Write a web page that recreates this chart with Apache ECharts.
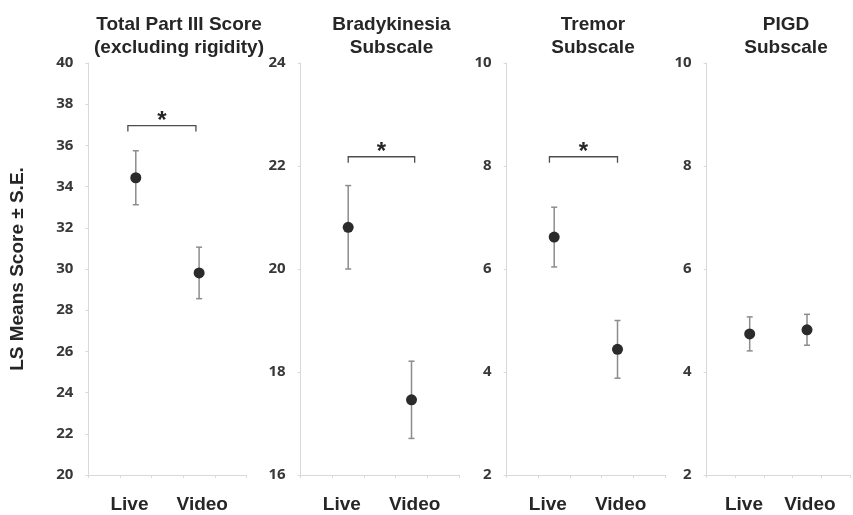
<!DOCTYPE html>
<html>
<head>
<meta charset="utf-8">
<script src="https://cdn.jsdelivr.net/npm/echarts@6/dist/echarts.min.js"></script>
<style>html,body{margin:0;padding:0;background:#fff}#c{width:853px;height:515px}</style>
</head>
<body>
<div id="c"></div>
<script>
// ---- data ----
const categories = ['Live', 'Video'];
const panelTitles = ['Total Part III Score\n(excluding rigidity)', 'Bradykinesia\nSubscale', 'Tremor\nSubscale', 'PIGD\nSubscale'];
const yAxisTitle = 'LS Means Score \u00b1 S.E.';
const totalMeans = [34.43, 29.81];
const totalSE = [1.31, 1.25];
const bradyMeans = [20.81, 17.46];
const bradySE = [0.81, 0.75];
const tremorMeans = [6.62, 4.44];
const tremorSE = [0.58, 0.56];
const pigdMeans = [4.74, 4.82];
const pigdSE = [0.33, 0.30];
const totalTicks = [20, 22, 24, 26, 28, 30, 32, 34, 36, 38, 40];
const bradyTicks = [16, 18, 20, 22, 24];
const tremorTicks = [2, 4, 6, 8, 10];
const pigdTicks = [2, 4, 6, 8, 10];
const sigLevels = [36.96, 22.18, 8.18, null];
const sigMark = '*';

// ---- layout ----
const panels = [
  {means: totalMeans, se: totalSE, ticks: totalTicks},
  {means: bradyMeans, se: bradySE, ticks: bradyTicks},
  {means: tremorMeans, se: tremorSE, ticks: tremorTicks},
  {means: pigdMeans, se: pigdSE, ticks: pigdTicks}
];
const gridLefts = [88.3, 300.7, 506.7, 706.7];
const gridWidth = 158.3;
const titleCenters = [174, 386.5, 588, 781];
const catX = [1.5, 3.5];
const labelX = [1.3, 3.6];
const bracketSpans = [[1.25, 3.4], [1.5, 3.6], [1.35, 3.5], null];
const axisColor = '#d9d9d9';

const grid = [], xAxis = [], yAxis = [], series = [], title = [];
panels.forEach((p, i) => {
  grid.push({left: gridLefts[i], top: 63, width: gridWidth, height: 412});
  title.push({
    text: panelTitles[i], left: titleCenters[i], top: 8, textAlign: 'center',
    textStyle: {fontFamily: 'Liberation Sans', fontWeight: 'bold', fontSize: 19, lineHeight: 23, color: '#262626'}
  });
  xAxis.push({
    type: 'value', gridIndex: i, min: 0, max: 5, interval: 1, position: 'bottom',
    axisLine: {show: true, onZero: false, lineStyle: {color: axisColor, width: 1}},
    axisTick: {show: true, length: 3, lineStyle: {color: axisColor}},
    axisLabel: {show: false}, splitLine: {show: false}
  });
  xAxis.push({
    type: 'value', gridIndex: i, min: 0, max: 5, interval: 0.1, position: 'bottom',
    axisLine: {show: false}, axisTick: {show: false}, splitLine: {show: false},
    axisLabel: {
      show: true, margin: 20, fontFamily: 'Liberation Sans', fontWeight: 'bold', fontSize: 19, color: '#262626',
      formatter: v => {
        for (let k = 0; k < categories.length; k++) if (Math.abs(v - labelX[k]) < 0.01) return categories[k];
        return '';
      }
    }
  });
  const t = p.ticks;
  const ya = {
    type: 'value', gridIndex: i, min: t[0], max: t[t.length - 1], interval: t[1] - t[0],
    axisLine: {show: true, onZero: false, lineStyle: {color: axisColor, width: 1}},
    axisTick: {show: true, length: 3, lineStyle: {color: axisColor}},
    splitLine: {show: false},
    axisLabel: {margin: 15, fontFamily: 'Open Sans', fontWeight: 'bold', fontSize: 15, color: '#383838'}
  };
  if (i === 0) {
    Object.assign(ya, {
      name: yAxisTitle, nameLocation: 'middle', nameRotate: 90, nameGap: 61,
      nameTextStyle: {fontFamily: 'Liberation Sans', fontWeight: 'bold', fontSize: 19, color: '#262626'}
    });
  }
  yAxis.push(ya);

  const xi = 2 * i;
  // error bars
  series.push({
    type: 'custom', xAxisIndex: xi, yAxisIndex: i, z: 2, silent: true,
    data: p.means.map((m, k) => [catX[k], m - p.se[k], m + p.se[k]]),
    renderItem: (params, api) => {
      const lo = api.coord([api.value(0), api.value(1)]);
      const hi = api.coord([api.value(0), api.value(2)]);
      const st = {stroke: '#8c8c8c', lineWidth: 1.5};
      return {type: 'group', children: [
        {type: 'line', shape: {x1: lo[0], y1: lo[1], x2: hi[0], y2: hi[1]}, style: st},
        {type: 'line', shape: {x1: lo[0] - 3, y1: lo[1], x2: lo[0] + 3, y2: lo[1]}, style: st},
        {type: 'line', shape: {x1: hi[0] - 3, y1: hi[1], x2: hi[0] + 3, y2: hi[1]}, style: st}
      ]};
    }
  });
  // means
  series.push({
    type: 'scatter', xAxisIndex: xi, yAxisIndex: i, z: 3, silent: true,
    symbol: 'circle', symbolSize: 11, itemStyle: {color: '#2b2b2b', opacity: 1},
    data: p.means.map((m, k) => [catX[k], m])
  });
  // significance bracket
  if (sigLevels[i] != null) {
    const sp = bracketSpans[i];
    series.push({
      type: 'custom', xAxisIndex: xi, yAxisIndex: i, z: 2, silent: true,
      data: [[sp[0], sp[1], sigLevels[i]]],
      renderItem: (params, api) => {
        const a = api.coord([api.value(0), api.value(2)]);
        const b = api.coord([api.value(1), api.value(2)]);
        return {type: 'group', children: [
          {type: 'polyline', shape: {points: [[a[0], a[1] + 6], a, b, [b[0], b[1] + 6]]},
           style: {stroke: '#4d4d4d', lineWidth: 1.3, fill: null}},
          {type: 'text', style: {text: sigMark, x: (a[0] + b[0]) / 2, y: a[1] - 4,
            textAlign: 'center', textVerticalAlign: 'middle',
            font: 'bold 24px "Liberation Sans"', fill: '#262626'}}
        ]};
      }
    });
  }
});

const chart = echarts.init(document.getElementById('c'), null, {renderer: 'canvas'});
chart.setOption({animation: false, backgroundColor: '#fff', title, grid, xAxis, yAxis, series});
</script>
</body>
</html>
